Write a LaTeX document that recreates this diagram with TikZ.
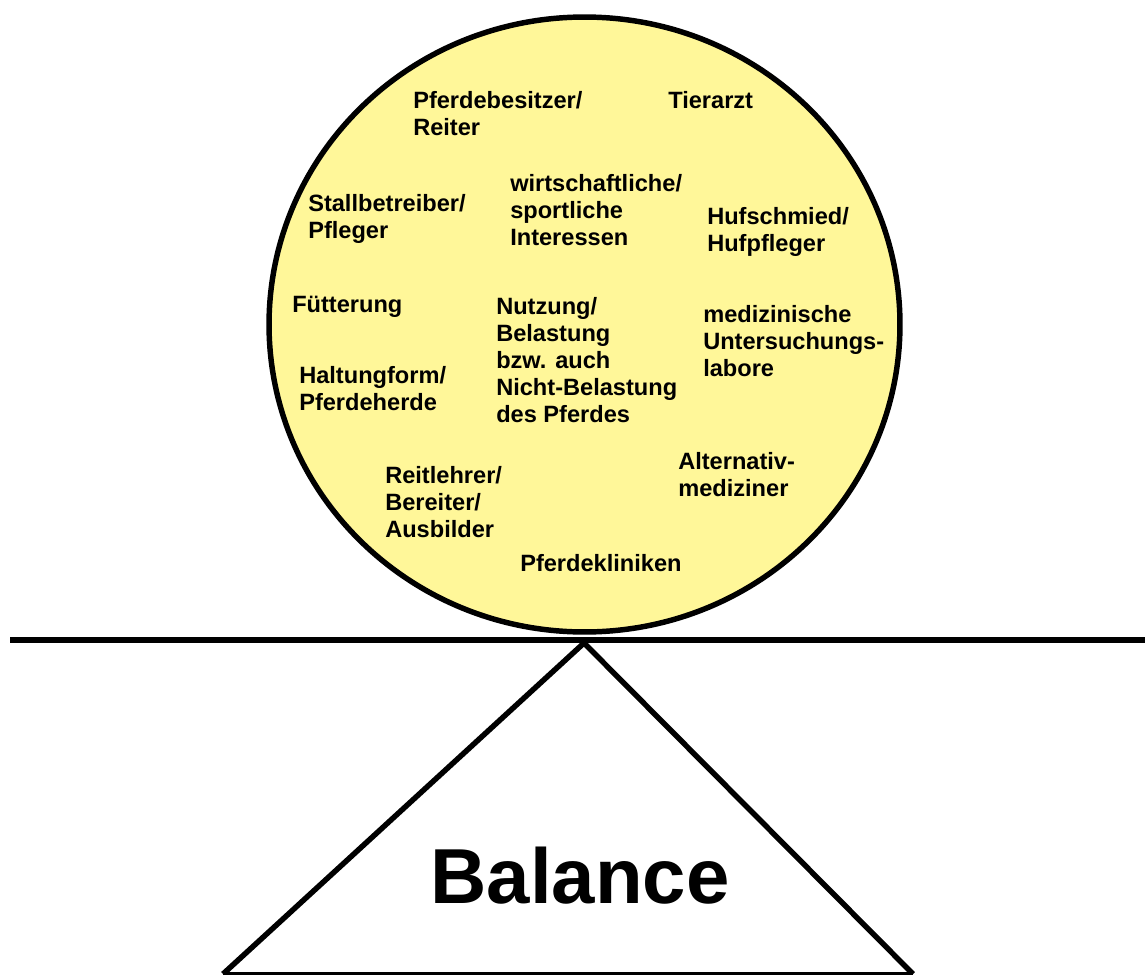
\documentclass[tikz,border=0pt]{standalone}
\usepackage{fontspec}
\setmainfont{Liberation Sans}
\definecolor{ballfill}{RGB}{255,247,153}
\begin{document}
\begin{tikzpicture}[x=0.75pt,y=-0.75pt,
  lbl/.style={anchor=north west,inner sep=0pt,align=left,
    font=\fontsize{17.7}{20.2}\selectfont\bfseries},
  thick line/.style={line width=4.1pt,draw=black}]
\useasboundingbox (0,0) rectangle (1145,974);
% ball
\draw[thick line,fill=ballfill] (584.5,324.5) ellipse [x radius=236.6pt, y radius=230.6pt];
% beam and fulcrum
\coordinate (beamL) at (10,640);
\coordinate (beamR) at (1160,640);
\coordinate (apex) at (584,643);
\coordinate (baseL) at (223,974);
\coordinate (baseR) at (913,974);
\draw[line width=2.5pt] (baseL) -- (baseR);
\draw[thick line,line join=miter] (baseL) -- (apex) -- (baseR);
\draw[thick line,line width=4.5pt] (beamL) -- (beamR);
% labels
\node[lbl] (n1) at (413,91) {Pferdebesitzer/\\Reiter};
\node[lbl] (n2) at (668,91) {Tierarzt};
\node[lbl] (n3) at (308,194) {Stallbetreiber/\\Pfleger};
\node[lbl] (n4) at (510,174) {wirtschaftliche/\\sportliche\\Interessen};
\node[lbl] (n5) at (707,207) {Hufschmied/\\Hufpfleger};
\node[lbl] (n6) at (292,296) {Fütterung};
\node[lbl] (n7) at (496,297) {Nutzung/\\Belastung\\bzw. auch\\Nicht-Belastung\\des Pferdes};
\node[lbl] (n8) at (703,305) {medizinische\\Untersuchungs-\\labore};
\node[lbl] (n9) at (299,366) {Haltungform/\\Pferdeherde};
\node[lbl] (n10) at (678,452) {Alternativ-\\mediziner};
\node[lbl] (n11) at (385,466) {Reitlehrer/\\Bereiter/\\Ausbilder};
\node[lbl] (n12) at (520,554) {Pferdekliniken};
\node[anchor=base,inner sep=0pt,font=\fontsize{58.5}{70}\selectfont\bfseries] (bal) at (580,903) {Balance};
\end{tikzpicture}
\end{document}
